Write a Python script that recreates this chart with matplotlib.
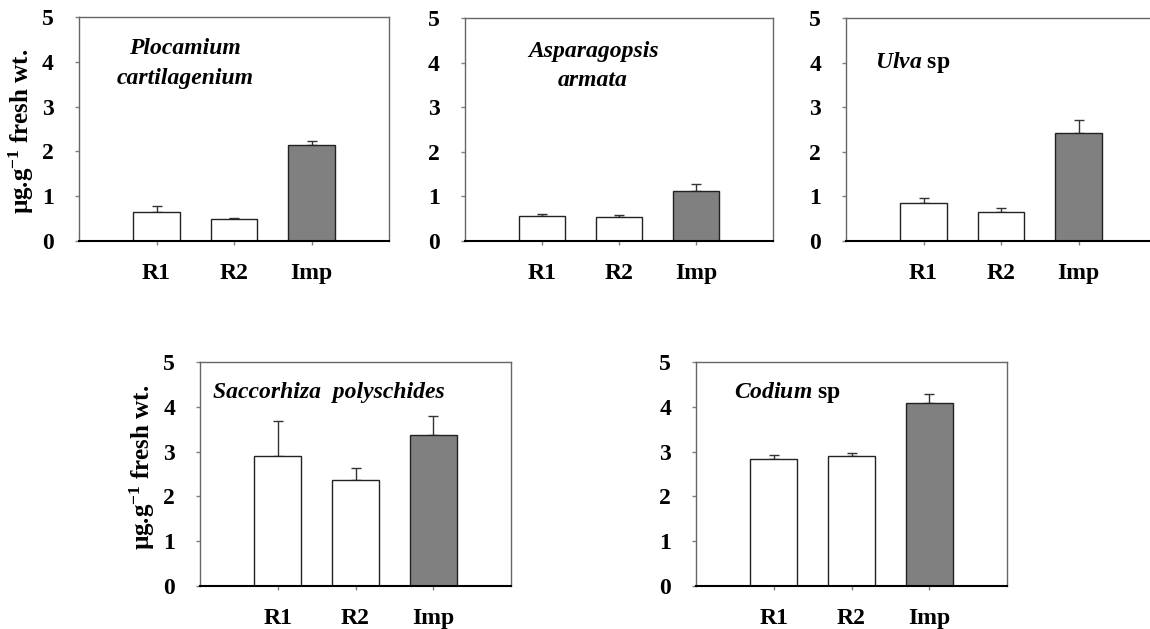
#!/usr/bin/env python

import matplotlib
matplotlib.use('Agg')
import matplotlib.pyplot as plt

plt.rcParams['font.family'] = ['Liberation Serif', 'DejaVu Serif']
plt.rcParams['font.weight'] = 'bold'
plt.rcParams['mathtext.fontset'] = 'custom'
plt.rcParams['mathtext.default'] = 'regular'
plt.rcParams['mathtext.it'] = 'Liberation Serif:italic:bold'

sites = ['R1', 'R2', 'Imp']

# mean concentration and upper error per species
plocamium = [0.64, 0.49, 2.14]
plocamium_err = [0.15, 0.03, 0.09]
asparagopsis = [0.57, 0.54, 1.12]
asparagopsis_err = [0.04, 0.04, 0.15]
ulva = [0.85, 0.64, 2.43]
ulva_err = [0.12, 0.09, 0.29]
saccorhiza = [2.90, 2.36, 3.36]
saccorhiza_err = [0.78, 0.27, 0.44]
codium = [2.84, 2.90, 4.09]
codium_err = [0.08, 0.07, 0.20]

W, H = 1150, 629


def make_axes(fig, left, top, right, bottom):
    """Axes from pixel box (origin top-left)."""
    return fig.add_axes([left / W, 1 - bottom / H, (right - left) / W,
                         (bottom - top) / H])


def bars(ax, values, errs, ylabel=None):
    x = range(1, len(values) + 1)
    colors = ['white', 'white', '#808080']
    ax.bar(x, values, width=0.6, color=colors, edgecolor='#222222',
           linewidth=1.0, zorder=2)
    ax.errorbar(x, values, yerr=[[0] * len(errs), errs], fmt='none',
                ecolor='#333333', elinewidth=1.0, capsize=3.5,
                capthick=1.0, zorder=1)
    ax.set_xlim(0, 4)
    ax.set_ylim(0, 5)
    ax.set_xticks(list(x))
    ax.set_xticklabels(sites)
    ax.set_yticks(range(6))
    ax.tick_params(axis='x', direction='out', length=3, width=1,
                   color='#808080', pad=13, labelsize=17)
    ax.tick_params(axis='y', direction='out', length=3, width=1,
                   color='#808080', pad=15, labelsize=17)
    for side in ['left', 'top', 'right']:
        ax.spines[side].set_color('#666666')
        ax.spines[side].set_linewidth(1.0)
    ax.spines['bottom'].set_color('black')
    ax.spines['bottom'].set_linewidth(1.5)
    if ylabel is not None:
        ax.set_ylabel('\u00b5g.g$^{-1}$ fresh wt.', fontsize=18,
                      fontweight='bold')
        ax.yaxis.set_label_coords(-0.139, ylabel)


def main():
    fig = plt.figure(figsize=(W / 100, H / 100), dpi=100)

    ax1 = make_axes(fig, 79, 17, 389, 241)
    bars(ax1, plocamium, plocamium_err, ylabel=0.49)
    ax1.text(0.342, 0.792, 'Plocamium\ncartilagenium', transform=ax1.transAxes,
             ha='center', va='center', fontsize=17, style='italic',
             linespacing=1.55)

    ax2 = make_axes(fig, 465, 18, 773, 241)
    bars(ax2, asparagopsis, asparagopsis_err)
    ax2.text(0.416, 0.785, 'Asparagopsis\narmata', transform=ax2.transAxes,
             ha='center', va='center', fontsize=17, style='italic',
             linespacing=1.55)

    ax3 = make_axes(fig, 846, 18, 1156, 241)
    bars(ax3, ulva, ulva_err)
    ax3.text(0.094, 0.80, r'$\mathit{Ulva}$ sp', transform=ax3.transAxes,
             ha='left', va='center', fontsize=17)

    ax4 = make_axes(fig, 200, 362, 511, 586)
    bars(ax4, saccorhiza, saccorhiza_err, ylabel=0.53)
    ax4.text(0.042, 0.866, 'Saccorhiza  polyschides', transform=ax4.transAxes,
             ha='left', va='center', fontsize=17, style='italic')

    ax5 = make_axes(fig, 696, 362, 1007, 586)
    bars(ax5, codium, codium_err)
    ax5.text(0.122, 0.866, r'$\mathit{Codium}$ sp', transform=ax5.transAxes,
             ha='left', va='center', fontsize=17)

    fig.savefig('out.png', dpi=100)


if __name__ == '__main__':
    main()
